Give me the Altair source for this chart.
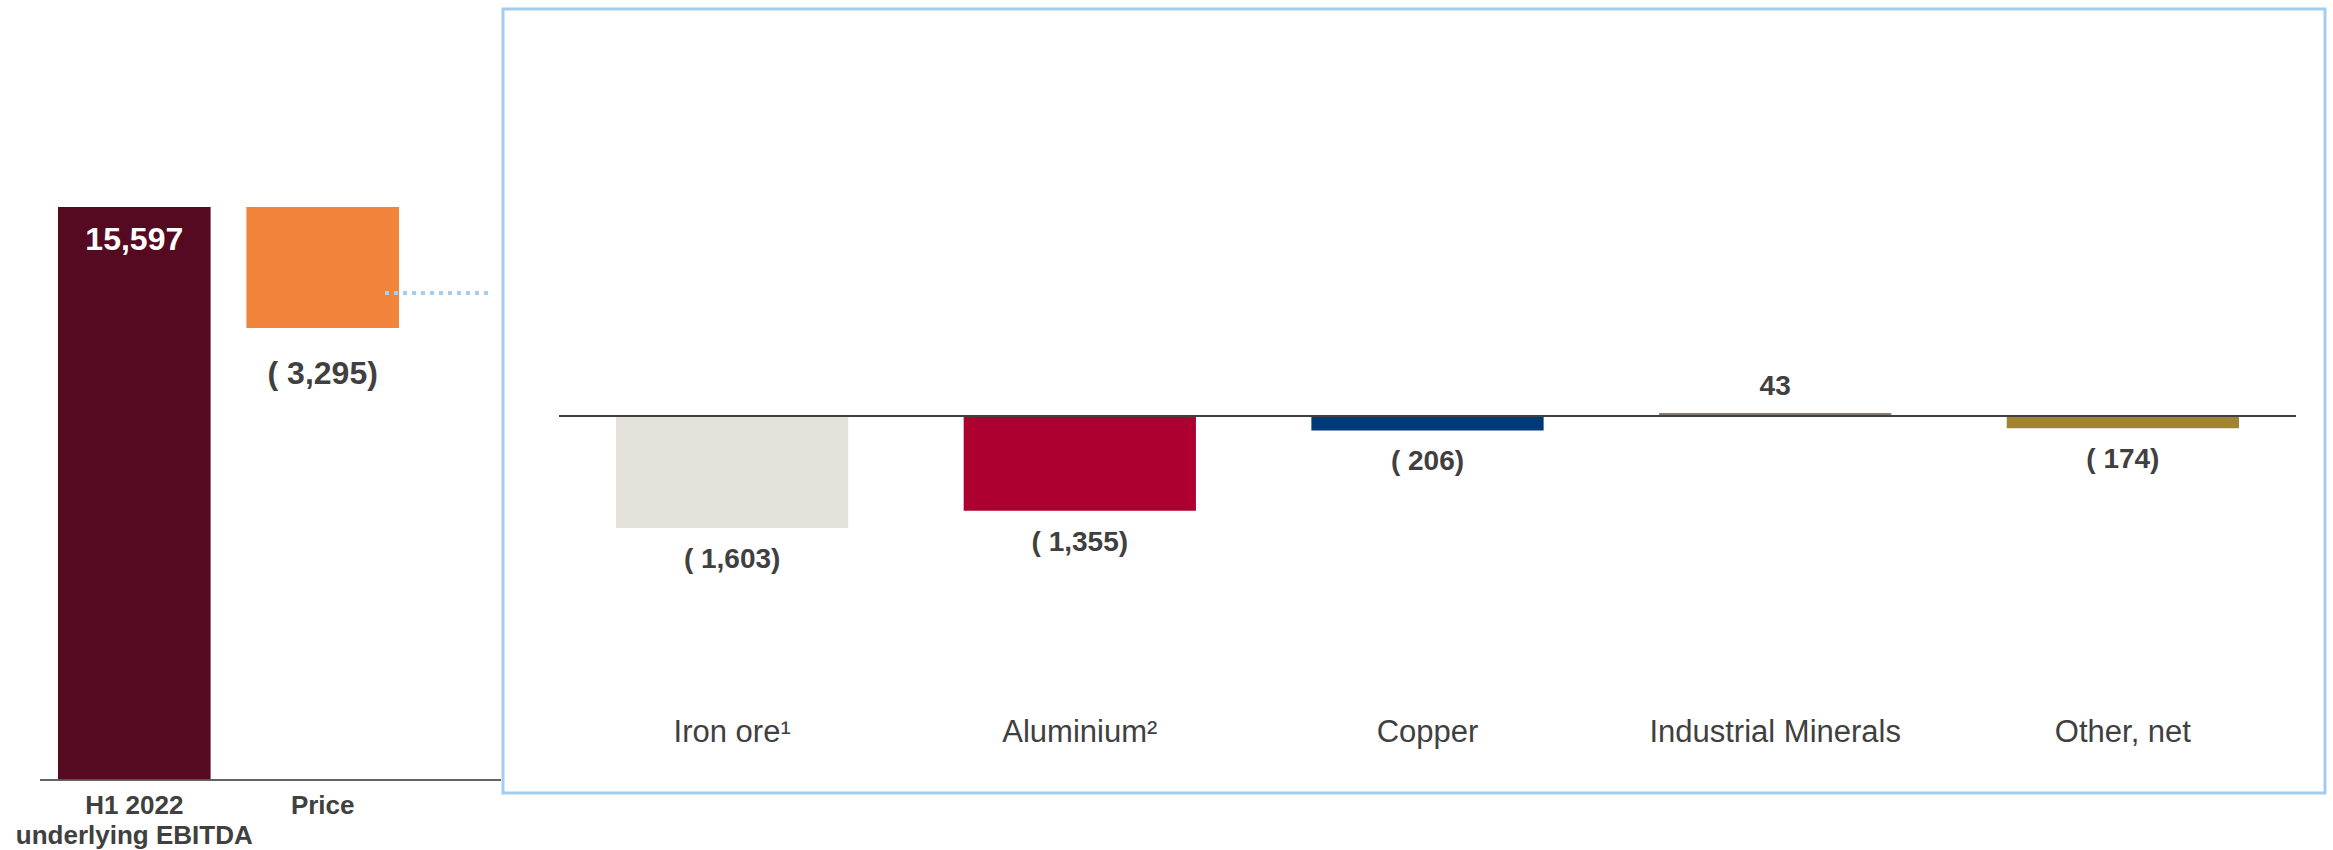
import altair as alt
import pandas as pd

FONT = "Liberation Sans, Arial, Helvetica, sans-serif"
TEXT = "#404040"
BOX = "#A3CDF0"

# ---------------- data ----------------
left_categories = ["H1 2022\nunderlying EBITDA", "Price"]
left_values = [15597, -3295]

right_categories = ["Iron ore¹", "Aluminium²", "Copper", "Industrial Minerals", "Other, net"]
right_values = [-1603, -1355, -206, 43, -174]

# ---------------- styles ----------------
left_colors = ["#560A22", "#F0843A"]
right_colors = ["#E5E2DC", "#AD0031", "#003978", "#877B72", "#A1842F"]


def fmt(v):
    return f"( {abs(v):,})" if v < 0 else f"{v:,}"


starts, ends, run = [], [], 0
for i, v in enumerate(left_values):
    s = 0 if i == 0 else run
    e = s + v
    run = e
    starts.append(s)
    ends.append(e)

left_df = pd.DataFrame({
    "cat": left_categories,
    "start": starts,
    "end": ends,
    "low": [min(a, b) for a, b in zip(starts, ends)],
    "label": [fmt(v) for v in left_values],
    "total": [True] + [False] * (len(left_values) - 1),
})
right_df = pd.DataFrame({
    "cat": right_categories,
    "value": right_values,
    "label": [fmt(v) for v in right_values],
})

# ---------------- scales / axes ----------------
lx_scale = alt.Scale(type="band", domain=left_categories, range=[-445, -104],
                     paddingInner=0.19, paddingOuter=0)
ly_scale = alt.Scale(domain=[0, 15597], range=[771, 198], nice=False, zero=True)
l_axis = alt.Axis(orient="bottom", title=None, domain=False, ticks=False, grid=False,
                  labelFont=FONT, labelFontSize=26, labelFontWeight="bold",
                  labelColor=TEXT, labelBaseline="top", labelLineHeight=30,
                  labelPadding=-1, labelAngle=0, labelLimit=0, labelOverlap=False,
                  labelExpr="split(datum.label, '\\n')")

rx_scale = alt.Scale(type="band", domain=right_categories, range=[113, 1736],
                     paddingInner=0.332, paddingOuter=0)
ry_scale = alt.Scale(domain=[-2000, 1000], range=[546.74, 337.13], nice=False, zero=True)
r_axis = alt.Axis(orient="bottom", title=None, domain=False, ticks=False, grid=False,
                  offset=-61, labelFont=FONT, labelFontSize=31, labelFontWeight="normal",
                  labelColor=TEXT, labelBaseline="middle", labelPadding=0,
                  labelAngle=0, labelLimit=0, labelOverlap=False)

# ---------------- left panel ----------------
lbase = alt.Chart(left_df)
lx = alt.X("cat:N", scale=lx_scale, axis=l_axis, sort=None)

left_bars = lbase.mark_bar().encode(
    x=lx,
    y=alt.Y("start:Q", scale=ly_scale, axis=None),
    y2="end:Q",
    color=alt.Color("cat:N", scale=alt.Scale(domain=left_categories, range=left_colors), legend=None),
)
left_total_text = lbase.mark_text(font=FONT, fontSize=32, fontWeight="bold", color="white",
                                  baseline="middle", dy=33).encode(
    x=lx, y=alt.Y("end:Q", scale=ly_scale, axis=None), text="label:N",
).transform_filter("datum.total")
left_delta_text = lbase.mark_text(font=FONT, fontSize=32, fontWeight="bold", color=TEXT,
                                  baseline="middle", dy=46).encode(
    x=lx, y=alt.Y("low:Q", scale=ly_scale, axis=None), text="label:N",
).transform_filter("!datum.total")
left_rule = alt.Chart(left_df).mark_rule(color="#5A5A5A", strokeWidth=1.5,
                                         xOffset=-18, x2Offset=102).encode(
    x=alt.X(datum=left_categories[0], type="nominal", bandPosition=0, scale=lx_scale, axis=l_axis),
    x2=alt.X2(datum=left_categories[-1], bandPosition=1),
    y=alt.Y(datum=0, type="quantitative", scale=ly_scale, axis=None),
)
connector = alt.Chart(left_df).mark_rule(color="#A5CDEE", strokeWidth=4, strokeDash=[4, 5],
                                         xOffset=-14, x2Offset=93).encode(
    x=alt.X(datum=left_categories[-1], type="nominal", bandPosition=1, scale=lx_scale, axis=l_axis),
    x2=alt.X2(datum=left_categories[-1], bandPosition=1),
    y=alt.Y(datum=13256, type="quantitative", scale=ly_scale, axis=None),
)
left = alt.layer(left_bars, left_rule, left_total_text, left_delta_text, connector)

# ---------------- right panel ----------------
rbase = alt.Chart(right_df)
rx = alt.X("cat:N", scale=rx_scale, axis=r_axis, sort=None)
ry = alt.Y("value:Q", scale=ry_scale, axis=None)

right_bars = rbase.mark_bar().encode(
    x=rx, y=ry,
    color=alt.Color("cat:N", scale=alt.Scale(domain=right_categories, range=right_colors), legend=None),
)
right_rule = rbase.mark_rule(color="#404040", strokeWidth=2.2, xOffset=-57, x2Offset=57).encode(
    x=alt.X(datum=right_categories[0], type="nominal", bandPosition=0, scale=rx_scale, axis=r_axis),
    x2=alt.X2(datum=right_categories[-1], bandPosition=1),
    y=alt.Y(datum=0, type="quantitative", scale=ry_scale, axis=None),
)
neg_text = rbase.mark_text(font=FONT, fontSize=28, fontWeight="bold", color=TEXT,
                           baseline="middle", dy=32).encode(
    x=rx, y=ry, text="label:N").transform_filter("datum.value < 0")
pos_text = rbase.mark_text(font=FONT, fontSize=28, fontWeight="bold", color=TEXT,
                           baseline="middle", dy=-26).encode(
    x=rx, y=ry, text="label:N").transform_filter("datum.value >= 0")
right = alt.layer(right_bars, right_rule, neg_text, pos_text)

chart = alt.layer(left, right).resolve_scale(
    x="independent", y="independent", color="independent"
).resolve_axis(x="independent", y="independent").properties(
    width=1822, height=784,
    autosize=alt.AutoSizeParams(type="none"),
    padding={"left": 503, "top": 9, "right": 8, "bottom": 57},
    background="white",
).configure_view(stroke=BOX, strokeWidth=3)

chart.save("out.html", embed_options={"renderer": "svg", "actions": False})
